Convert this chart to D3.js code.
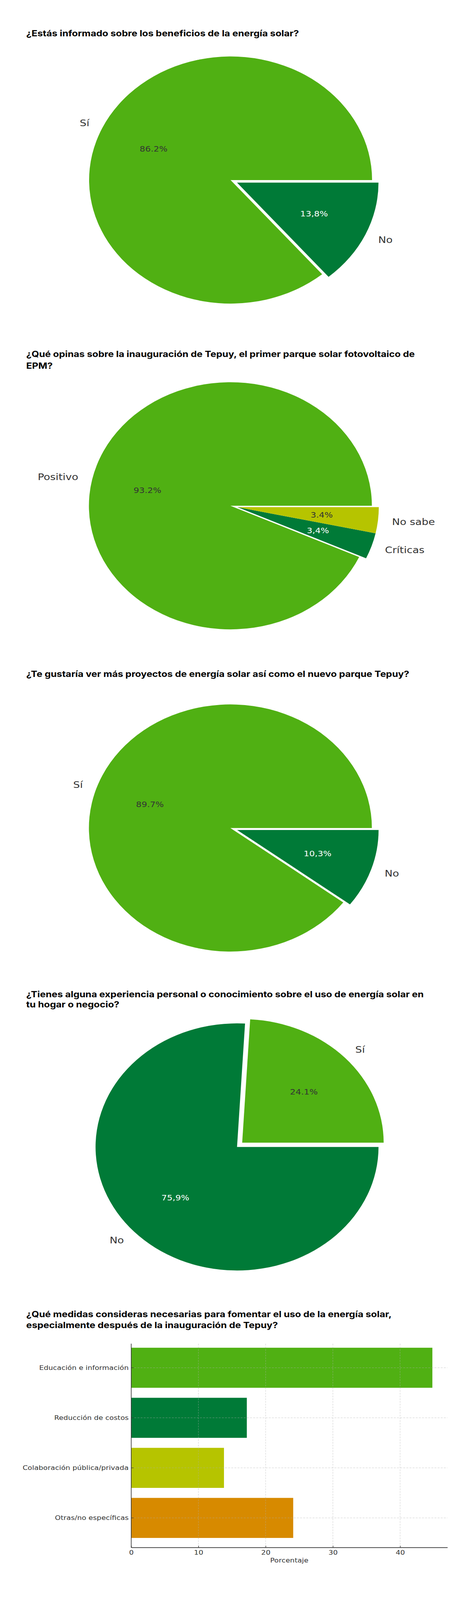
<!DOCTYPE html>
<html>
<head>
<meta charset="utf-8">
<script src="https://cdn.jsdelivr.net/npm/d3@7"></script>
<style>
  html, body { margin: 0; padding: 0; background: #ffffff; overflow: hidden; }
  svg { display: block; }
</style>
</head>
<body>
<div id="chart"></div>
<script>
// ---------------- DATA ----------------
const pie1Title = ["¿Estás informado sobre los beneficios de la energía solar?"];
const pie1Labels = ["Sí", "No"];
const pie1Values = [86.2, 13.8];
const pie1Pct = ["86.2%", "13,8%"];

const pie2Title = ["¿Qué opinas sobre la inauguración de Tepuy, el primer parque solar fotovoltaico de", "EPM?"];
const pie2Labels = ["Positivo", "Críticas", "No sabe"];
const pie2Values = [93.2, 3.4, 3.4];
const pie2Pct = ["93.2%", "3,4%", "3.4%"];

const pie3Title = ["¿Te gustaría ver más proyectos de energía solar así como el nuevo parque Tepuy?"];
const pie3Labels = ["Sí", "No"];
const pie3Values = [89.7, 10.3];
const pie3Pct = ["89.7%", "10,3%"];

const pie4Title = ["¿Tienes alguna experiencia personal o conocimiento sobre el uso de energía solar en", "tu hogar o negocio?"];
const pie4Labels = ["Sí", "No"];
const pie4Values = [24.1, 75.9];
const pie4Pct = ["24.1%", "75,9%"];

const barTitle = ["¿Qué medidas consideras necesarias para fomentar el uso de la energía solar,", "especialmente después de la inauguración de Tepuy?"];
const barCategories = ["Educación e información", "Reducción de costos", "Colaboración pública/privada", "Otras/no específicas"];
const barValues = [44.8, 17.2, 13.8, 24.1];
const barTicks = [0, 10, 20, 30, 40];
const barXLabel = "Porcentaje";

// ---------------- STYLE ----------------
const GREEN = "#50b013", DARK = "#007a37", YELLOW = "#b6c400", ORANGE = "#d78a00";
const TEXT = "#333333";
const CHART_FONT = "'DejaVu Sans', sans-serif";
const TITLE_FONT = "Inter, 'Noto Sans', sans-serif";

const W = 1200, H = 4688;
// the drawing is laid out on a 1200x4688 canvas; if the window is shorter
// than that, the whole canvas is fitted into the visible window height
const viewH = Math.min(H, window.innerHeight || H);
const svg = d3.select("#chart").append("svg")
  .attr("width", W).attr("height", viewH)
  .attr("viewBox", `0 0 ${W} ${H}`)
  .attr("preserveAspectRatio", "none")
  .style("background", "#fff");

const probe = svg.append("text").attr("font-family", TITLE_FONT).attr("font-weight", 700)
  .attr("font-size", 22).text(pie1Title[0]);
const probeLen = probe.node().getComputedTextLength();
probe.remove();
const titleSize = 22 * 698 / probeLen;

function drawTitle(lines, baselines) {
  lines.forEach((t, i) => {
    svg.append("text").attr("x", 67).attr("y", baselines[i])
      .attr("font-family", TITLE_FONT).attr("font-weight", 700)
      .attr("font-size", titleSize).attr("fill", "#000").text(t);
  });
}

// ---------------- PIES ----------------
const pies = [
  { title: pie1Title, baselines: [107], cx: 590, cy: 527.5, labels: pie1Labels, values: pie1Values, pct: pie1Pct, colors: [GREEN, DARK], explode: [0, 1] },
  { title: pie2Title, baselines: [1046, 1081], cx: 589.5, cy: 1482, labels: pie2Labels, values: pie2Values, pct: pie2Pct, colors: [GREEN, DARK, YELLOW], explode: [0, 1, 1] },
  { title: pie3Title, baselines: [1984], cx: 589.5, cy: 2426, labels: pie3Labels, values: pie3Values, pct: pie3Pct, colors: [GREEN, DARK], explode: [0, 1] },
  { title: pie4Title, baselines: [2921.5, 2952], cx: 606.5, cy: 3360.5, labels: pie4Labels, values: pie4Values, pct: pie4Pct, colors: [GREEN, DARK], explode: [1, 0] }
];

const R = 362;
pies.forEach(cfg => {
  drawTitle(cfg.title, cfg.baselines);
  const g = svg.append("g").attr("transform", `translate(${cfg.cx},${cfg.cy})`);
  const data = cfg.values.map((v, i) => ({ v, label: cfg.labels[i], pct: cfg.pct[i], color: cfg.colors[i], ex: cfg.explode[i] }));
  // matplotlib style: start at 3 o'clock, counter-clockwise
  const pie = d3.pie().sort(null).value(d => d.v)
    .startAngle(Math.PI / 2).endAngle(Math.PI / 2 - 2 * Math.PI);
  const arcs = pie(data);
  const exArcs = arcs.filter(a => a.data.ex);
  let off = [0, 0];
  if (exArcs.length) {
    const lo = d3.min(exArcs, a => Math.min(a.startAngle, a.endAngle));
    const hi = d3.max(exArcs, a => Math.max(a.startAngle, a.endAngle));
    const mid = (lo + hi) / 2;
    off = [Math.sin(mid) * 0.05 * R, -Math.cos(mid) * 0.05 * R];
  }
  const arc = d3.arc().innerRadius(0).outerRadius(R);
  g.selectAll("path.w").data(arcs).enter().append("path")
    .attr("d", arc)
    .attr("fill", d => d.data.color)
    .attr("transform", d => d.data.ex ? `translate(${off[0]},${off[1]})` : null);

  arcs.forEach(a => {
    const mid = (a.startAngle + a.endAngle) / 2;
    const ox = a.data.ex ? off[0] : 0, oy = a.data.ex ? off[1] : 0;
    const sx = Math.sin(mid), sy = -Math.cos(mid);
    g.append("text")
      .attr("x", sx * 1.1 * R + ox).attr("y", sy * 1.1 * R + oy)
      .attr("text-anchor", sx > 0 ? "start" : "end")
      .attr("dominant-baseline", "central")
      .attr("font-family", CHART_FONT).attr("font-size", 27).attr("fill", TEXT)
      .text(a.data.label);
    g.append("text")
      .attr("x", sx * 0.6 * R + ox).attr("y", sy * 0.6 * R + oy)
      .attr("text-anchor", "middle")
      .attr("dominant-baseline", "central")
      .attr("font-family", CHART_FONT).attr("font-size", 22.4)
      .attr("fill", a.data.color === DARK ? "#ffffff" : TEXT)
      .text(a.data.pct);
  });
});

// ---------------- BAR CHART ----------------
drawTitle(barTitle, [3859, 3891]);
const barColors = [GREEN, DARK, YELLOW, ORANGE];
const xL = 335.7, xR = 1144.8, yTop = 3921, yBot = 4534, spineTop = 3937;
const x = d3.scaleLinear().domain([0, d3.max(barValues) * 1.05]).range([xL, xR]);
const y = d3.scaleBand().domain(barCategories).range([yTop, yBot]).paddingInner(0.2).paddingOuter(0.19);

const bg = svg.append("g");
bg.selectAll("rect").data(barCategories).enter().append("rect")
  .attr("x", x(0)).attr("y", d => y(d))
  .attr("width", (d, i) => x(barValues[i]) - x(0))
  .attr("height", y.bandwidth())
  .attr("fill", (d, i) => barColors[i]);

// grid (drawn above bars, like matplotlib's default)
const grid = svg.append("g").attr("stroke", "#b0b0b0").attr("stroke-width", 1)
  .attr("stroke-dasharray", "5,3").attr("opacity", 0.65);
grid.selectAll("line.v").data(barTicks).enter().append("line")
  .attr("x1", d => x(d)).attr("x2", d => x(d)).attr("y1", spineTop).attr("y2", yBot);
grid.selectAll("line.h").data(barCategories).enter().append("line")
  .attr("x1", xL).attr("x2", xR)
  .attr("y1", d => y(d) + y.bandwidth() / 2).attr("y2", d => y(d) + y.bandwidth() / 2);

// axes
const xAxis = d3.axisBottom(x).tickValues(barTicks).tickFormat(d3.format("d"))
  .tickSizeInner(-5).tickSizeOuter(0).tickPadding(8);
const gx = svg.append("g").attr("transform", `translate(0,${yBot})`).call(xAxis);
gx.select(".domain").attr("stroke", "#333").attr("stroke-width", 2);
gx.selectAll(".tick line").attr("stroke", "#333").attr("stroke-width", 1.3);
gx.selectAll(".tick text").attr("font-family", CHART_FONT).attr("font-size", 18.6).attr("fill", TEXT);

const yAxis = d3.axisLeft(y).tickSizeInner(-6).tickSizeOuter(0).tickPadding(6.5);
const gy = svg.append("g").attr("transform", `translate(${xL},0)`).call(yAxis);
gy.select(".domain").remove();
gy.selectAll(".tick line").attr("stroke", "#333").attr("stroke-width", 1.3);
gy.selectAll(".tick text").attr("font-family", CHART_FONT).attr("font-size", 18.6).attr("fill", TEXT);

svg.append("line").attr("x1", xL).attr("x2", xL).attr("y1", spineTop).attr("y2", yBot + 1)
  .attr("stroke", "#333").attr("stroke-width", 1.6);

svg.append("text").attr("x", (xL + xR) / 2).attr("y", 4578)
  .attr("text-anchor", "middle").attr("font-family", CHART_FONT).attr("font-size", 18.6)
  .attr("fill", TEXT).text(barXLabel);
</script>
</body>
</html>
